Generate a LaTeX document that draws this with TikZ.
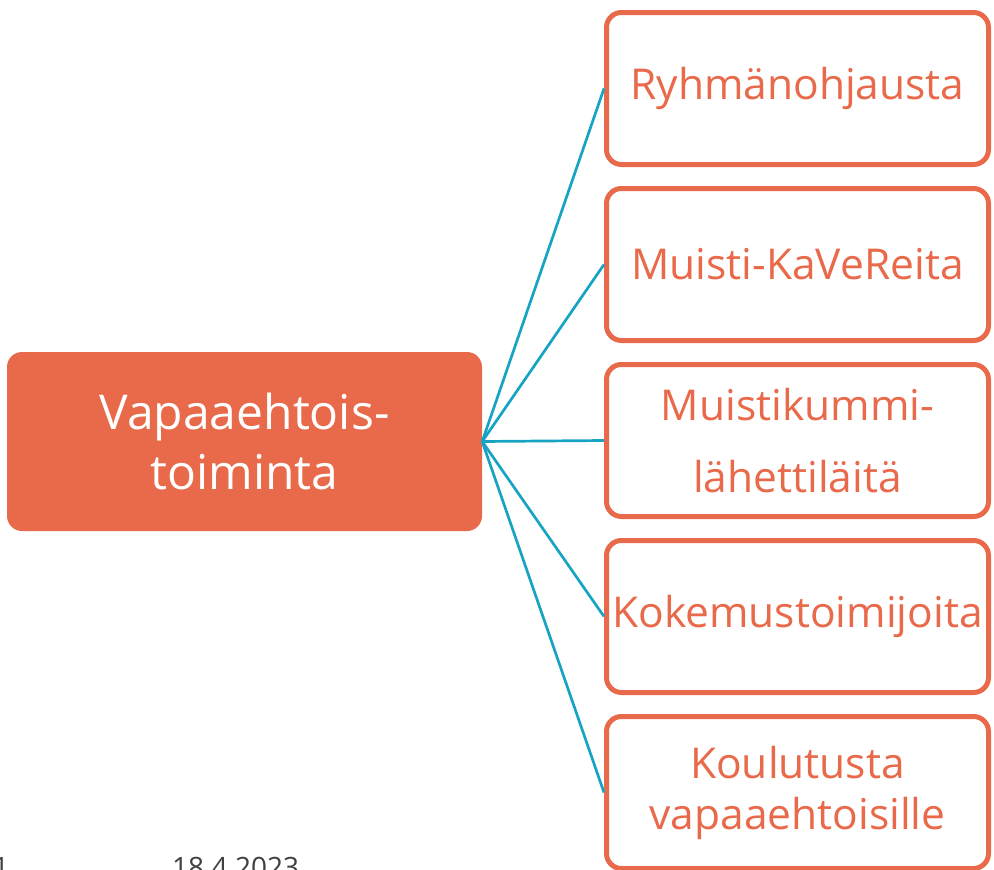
\documentclass[tikz,border=0pt]{standalone}
\usepackage{fontspec}
\setmainfont{Open Sans}
\usetikzlibrary{positioning}
\definecolor{kaveorange}{HTML}{E96A4A}
\definecolor{kaveteal}{HTML}{17A3C4}
\definecolor{footgray}{HTML}{404040}
\tikzset{
	hub/.style={rectangle, rounded corners=15pt, fill=kaveorange, text=white, minimum width=475pt, minimum height=179pt, inner sep=2pt, align=center, font=\fontsize{48}{60}\selectfont},
	leaf/.style={rectangle, rounded corners=15pt, draw=kaveorange, line width=5pt, fill=white, text=kaveorange, minimum width=382pt, minimum height=152pt, inner sep=2pt, align=center, font=\fontsize{42.5}{51}\selectfont},
	link/.style={draw=kaveteal, line width=2.7pt},
	foot/.style={anchor=base west, text=footgray, inner sep=0pt, font=\fontsize{28}{34}\selectfont}
}

\begin{document}
\begin{tikzpicture}[x=1pt, y=-1pt, node distance=19pt]
	\useasboundingbox (0,0) rectangle (994,870);
	\node[hub] (toim) at (244.5,441.5) {Vapaaehtois-\\toiminta};
	\node[leaf] (ryhma) at (797.5,88.5) {Ryhmänohjausta};
	\node[leaf, below=of ryhma] (kave) {Muisti-KaVeReita};
	\node[leaf, below=of kave] (kummi) {Muistikummi-\\[21pt]lähettiläitä};
	\node[leaf, below=of kummi] (kokemus) {Kokemustoimijoita};
	\node[leaf, below=of kokemus] (koulutus) {Koulutusta\\vapaaehtoisille};
	\foreach \b in {ryhma,kave,kummi,kokemus,koulutus}
		\draw[link] (toim.east) -- (\b.west);
	% footer, cut by the page edge
	\node[foot] (sivu) at (-7,877) {1};
	\node[foot] (pvm) at (172,877) {18.4.2023};
\end{tikzpicture}
\end{document}
